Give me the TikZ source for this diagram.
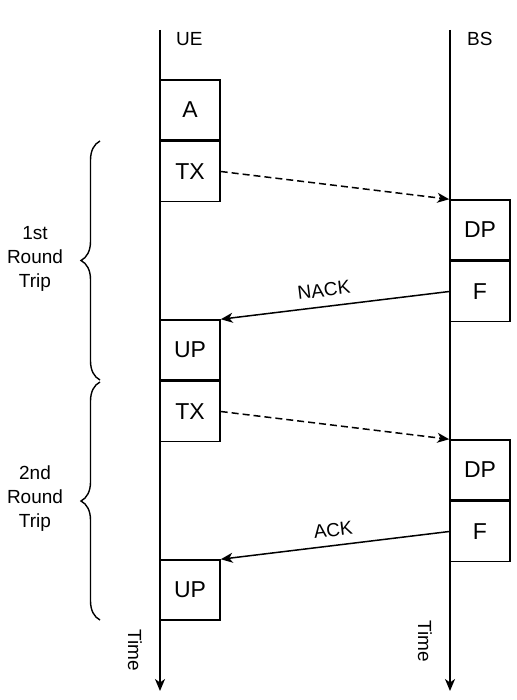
\documentclass[tikz,border=0pt]{standalone}
\usepackage{fontspec}
\setmainfont{Liberation Sans}
\usetikzlibrary{positioning}
\usetikzlibrary{arrows.meta}
\usetikzlibrary{decorations.pathreplacing}
\tikzset{
  slot/.style={draw, line width=1.5pt, minimum size=60pt, inner sep=0, font=\fontsize{23}{27}\selectfont},
  lbl/.style={font=\fontsize{19}{23}\selectfont, inner sep=1},
  msg/.style={line width=1.5pt, -{Stealth[length=12pt,width=10pt,inset=3.5pt]}},
  rtbrace/.style={line width=1.4pt, decorate, decoration={brace, amplitude=19pt}},
}
\begin{document}
\begin{tikzpicture}[x=1pt,y=-1pt]
\useasboundingbox (0,0) rectangle (516,700);
% time lines
\coordinate (ue top) at (160,30);
\coordinate (ue end) at (160,691);
\coordinate (bs top) at (450,30);
\coordinate (bs end) at (450,691);
\draw[msg] (ue top) -- (ue end);
\draw[msg] (bs top) -- (bs end);
\node[lbl, anchor=west] (ue) at (175,39) {UE};
\node[lbl, anchor=west] (bs) at (466,39) {BS};
\node[lbl, rotate=-90] (ue time) at (135,650) {Time};
\node[lbl, rotate=-90] (bs time) at (425,641) {Time};

% UE side
\node[slot] (a) at (190,110) {A};
\node[slot, below=0pt of a] (tx1) {TX};
\node[slot] (up1) at (190,350) {UP};
\node[slot, below=0pt of up1] (tx2) {TX};
\node[slot] (up2) at (190,590) {UP};

% BS side
\node[slot] (dp1) at (480,230) {DP};
\node[slot, below=0pt of dp1] (f1) {F};
\node[slot] (dp2) at (480,470) {DP};
\node[slot, below=0pt of dp2] (f2) {F};

% messages
\draw[msg, dash pattern=on 7pt off 4pt] (tx1.east) -- (dp1.north west);
\draw[msg] (f1.west) -- (up1.north east) node[lbl, pos=0.54, sloped, above=8pt] {NACK};
\draw[msg, dash pattern=on 7pt off 4pt] (tx2.east) -- (dp2.north west);
\draw[msg] (f2.west) -- (up2.north east) node[lbl, pos=0.5, sloped, above=7pt] {ACK};

% round trips
\coordinate (rt1 top) at (100,141);
\coordinate (rt1 end) at (100,380);
\coordinate (rt2 top) at (100,382);
\coordinate (rt2 end) at (100,620);
\draw[rtbrace] (rt1 end) -- (rt1 top);
\draw[rtbrace] (rt2 end) -- (rt2 top);
\node[lbl, align=center, font=\fontsize{19}{24}\selectfont] (rt1) at (35,259) {1st\\Round\\Trip};
\node[lbl, align=center, font=\fontsize{19}{24}\selectfont] (rt2) at (35,499) {2nd\\Round\\Trip};
\end{tikzpicture}
\end{document}
